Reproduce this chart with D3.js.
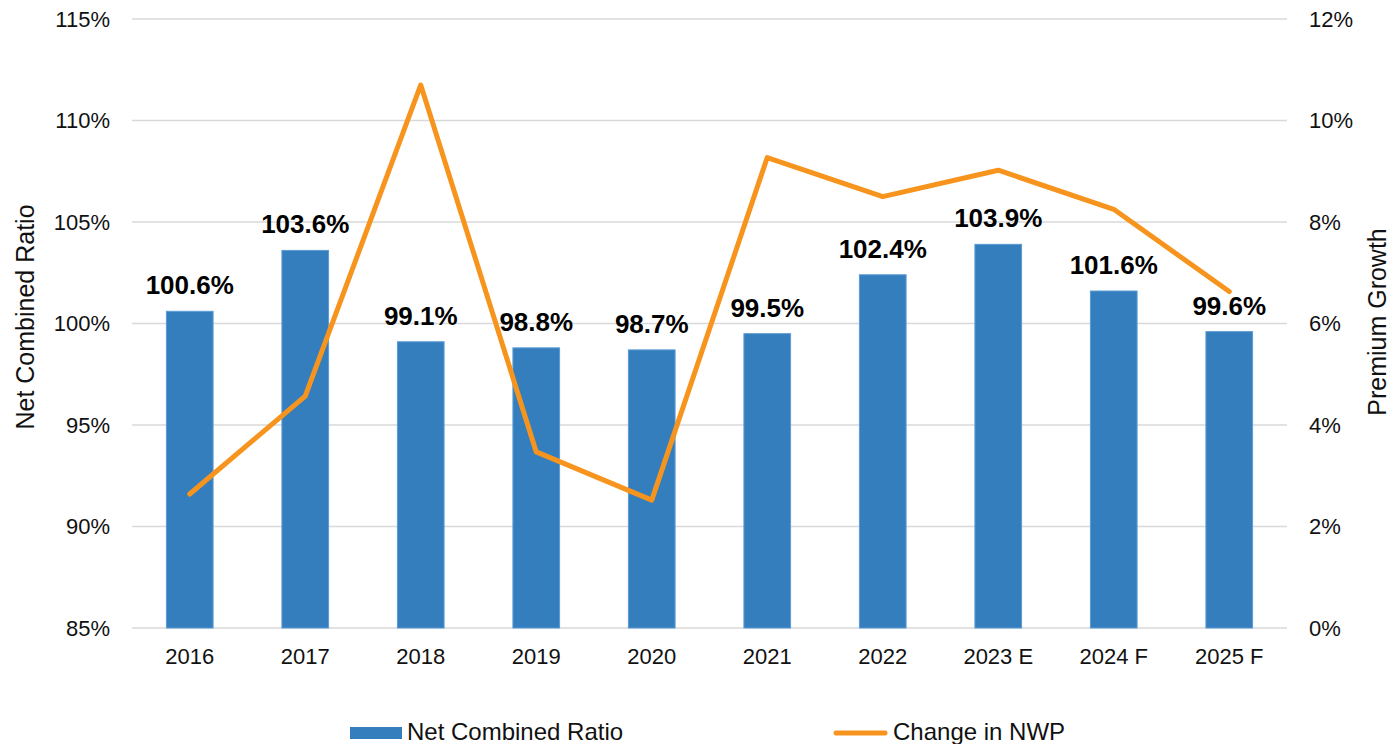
<!DOCTYPE html>
<html lang="en">
<head>
    <meta charset="UTF-8">
    <title>Net Combined Ratio vs Premium Growth</title>
    <script src="https://d3js.org/d3.v7.min.js"></script>
    <style>
        body {margin: 0; background: white}
        text {
            font-family: Arial, 'Liberation Sans', sans-serif;
            fill: #111;
        }
        .axis text {font-size: 22px}
        .axis .domain {display: none}
        .grid {
            stroke: #d9d9d9;
            stroke-width: 1.5;
        }
        .label {
            font-size: 26px;
            font-weight: bold;
            fill: #000;
        }
    </style>
</head>
<body>
<script>
    const width  = 1391;
    const height = 744;

    // data
    const categories = ["2016", "2017", "2018", "2019", "2020", "2021", "2022", "2023 E", "2024 F", "2025 F"];
    const combinedRatio = [100.6, 103.6, 99.1, 98.8, 98.7, 99.5, 102.4, 103.9, 101.6, 99.6];
    const nwpChange = [2.64, 4.57, 10.7, 3.47, 2.52, 9.27, 8.5, 9.02, 8.25, 6.63];
    const leftTicks  = [85, 90, 95, 100, 105, 110, 115];
    const rightTicks = [0, 2, 4, 6, 8, 10, 12];

    const plot = {left: 132, right: 1287, top: 19, bottom: 628};

    const x = d3.scaleBand()
            .domain(categories)
            .range([plot.left, plot.right])
            .paddingInner(0.596)
            .paddingOuter(0.298);

    const yLeft = d3.scaleLinear()
            .domain([85, 115])
            .range([plot.bottom, plot.top]);

    const yRight = d3.scaleLinear()
            .domain([0, 12])
            .range([plot.bottom, plot.top]);

    const svg = d3.select("body")
            .append("svg")
            .attr("width", width)
            .attr("height", height);

    // horizontal grid
    svg.selectAll("line.grid")
        .data(leftTicks).join("line").attr("class", "grid")
        .attr("x1", plot.left).attr("x2", plot.right)
        .attr("y1", yLeft).attr("y2", yLeft);

    // bars
    svg.selectAll("rect.bar")
        .data(combinedRatio).join("rect").attr("class", "bar")
        .attr("x", (d, i) => x(categories[i]))
        .attr("width", x.bandwidth())
        .attr("y", d => yLeft(d))
        .attr("height", d => yLeft(85) - yLeft(d))
        .attr("fill", "#357ebd")
        .attr("stroke", "#5b9bd5")
        .attr("stroke-width", 1);

    // line on secondary axis
    const line = d3.line()
            .x((d, i) => x(categories[i]) + x.bandwidth() / 2)
            .y(d => yRight(d));

    svg.append("path")
        .datum(nwpChange)
        .attr("d", line)
        .attr("fill", "none")
        .attr("stroke", "#f7941d")
        .attr("stroke-width", 5)
        .attr("stroke-linejoin", "round")
        .attr("stroke-linecap", "round");

    // bar labels
    svg.selectAll("text.label")
        .data(combinedRatio).join("text").attr("class", "label")
        .attr("x", (d, i) => x(categories[i]) + x.bandwidth() / 2)
        .attr("y", d => yLeft(d) - 17)
        .attr("text-anchor", "middle")
        .text(d => d.toFixed(1) + "%");

    // axes
    svg.append("g").attr("class", "axis")
        .attr("transform", `translate(${plot.left},0)`)
        .call(d3.axisLeft(yLeft).tickValues(leftTicks)
            .tickFormat(d => d + "%").tickSize(0).tickPadding(22));

    svg.append("g").attr("class", "axis")
        .attr("transform", `translate(${plot.right},0)`)
        .call(d3.axisRight(yRight).tickValues(rightTicks)
            .tickFormat(d => d + "%").tickSize(0).tickPadding(22));

    svg.append("g").attr("class", "axis")
        .attr("transform", `translate(0,${plot.bottom})`)
        .call(d3.axisBottom(x).tickSize(0).tickPadding(20));

    // axis titles
    svg.append("text")
        .attr("transform", "translate(34,317) rotate(-90)")
        .attr("text-anchor", "middle")
        .style("font-size", "25px")
        .text("Net Combined Ratio");

    svg.append("text")
        .attr("transform", "translate(1386,322) rotate(-90)")
        .attr("text-anchor", "middle")
        .style("font-size", "25px")
        .text("Premium Growth");

    // legend
    const legend = svg.append("g").style("font-size", "24px");

    legend.append("rect")
        .attr("x", 350).attr("y", 727)
        .attr("width", 52).attr("height", 12)
        .attr("fill", "#357ebd");
    legend.append("text")
        .attr("x", 407).attr("y", 740)
        .text("Net Combined Ratio");

    legend.append("line")
        .attr("x1", 836).attr("x2", 885)
        .attr("y1", 733).attr("y2", 733)
        .attr("stroke", "#f7941d")
        .attr("stroke-width", 5)
        .attr("stroke-linecap", "round");
    legend.append("text")
        .attr("x", 893).attr("y", 740)
        .text("Change in NWP");
</script>
</body>
</html>
